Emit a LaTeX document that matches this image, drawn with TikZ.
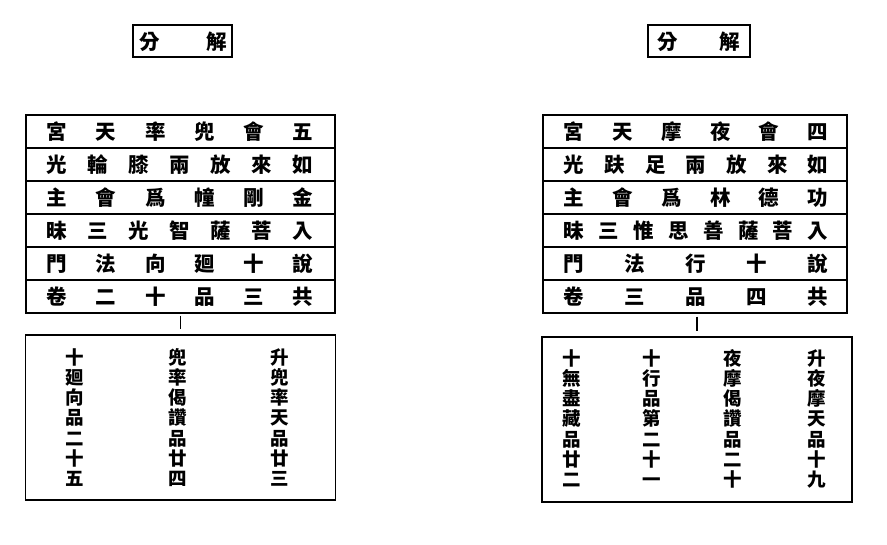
\documentclass[tikz,border=0pt]{standalone}
\usepackage{fontspec}
\newfontfamily\cjk{Noto Sans CJK TC}
\newcommand\putrow[6]{%
  \foreach \c [count=\i from 0] in {#6} {%
    \node[ch] (#1-\i) at ({#2+(#3-#2)*\i/(#5-1)},{#4+8}) {\c};}}
\newcommand\putcol[4]{%
  \foreach \c [count=\i from 0] in {#4} {%
    \node[colch] (#1-\i) at (#2,{#3+7+20.3*\i}) {\c};}}
\begin{document}
\begin{tikzpicture}[x=1pt,y=-1pt,
  box/.style={draw,line width=1.2pt,inner sep=0pt},
  ch/.style={font=\cjk\bfseries\fontsize{20.5}{20.5}\selectfont,inner sep=0pt,anchor=base},
  colch/.style={font=\cjk\bfseries\fontsize{18.5}{18.5}\selectfont,inner sep=0pt,anchor=base},
  link/.style={line width=1.6pt}]
\useasboundingbox[fill=white] (0,0) rectangle (887,544);
% titles
\node[box,minimum width=99pt,minimum height=32pt] (tL) at (182.5,41) {};
\node[ch] (tL1) at (150,49) {分};
\node[ch] (tL2) at (217,49) {解};
\node[box,minimum width=102pt,minimum height=32pt] (tR) at (699,41) {};
\node[ch] (tR1) at (668,49) {分};
\node[ch] (tR2) at (730,49) {解};
% tables
\foreach \k in {1,...,6} {
  \node[box,minimum width=309pt,minimum height=33pt] (LR\k) at (180.5,{115+33*(\k-0.5)}) {};
  \node[box,minimum width=304pt,minimum height=33pt] (RR\k) at (695,{115+33*(\k-0.5)}) {};
}
\putrow{L1}{57}{303}{131.5}{6}{宮,天,率,兜,會,五}
\putrow{L2}{57}{303}{164.5}{7}{光,輪,膝,兩,放,來,如}
\putrow{L3}{57}{303}{197.5}{6}{主,會,爲,幢,剛,金}
\putrow{L4}{57}{303}{230.5}{7}{昧,三,光,智,薩,菩,入}
\putrow{L5}{57}{303}{263.5}{6}{門,法,向,廻,十,說}
\putrow{L6}{57}{303}{296.5}{6}{卷,二,十,品,三,共}
\putrow{R1}{574}{818}{131.5}{6}{宮,天,摩,夜,會,四}
\putrow{R2}{574}{818}{164.5}{7}{光,趺,足,兩,放,來,如}
\putrow{R3}{574}{818}{197.5}{6}{主,會,爲,林,德,功}
\putrow{R4}{574}{818}{230.5}{8}{昧,三,惟,思,善,薩,菩,入}
\putrow{R5}{574}{818}{263.5}{5}{門,法,行,十,說}
\putrow{R6}{574}{818}{296.5}{5}{卷,三,品,四,共}
% bottom boxes
\node[box,minimum width=310pt,minimum height=165pt] (botL) at (180.5,417.5) {};
\node[box,minimum width=310pt,minimum height=165pt] (botR) at (697,419.5) {};
\putcol{cL1}{75}{357}{十,廻,向,品,二,十,五}
\putcol{cL2}{178}{357}{兜,率,偈,讚,品,廿,四}
\putcol{cL3}{280}{357}{升,兜,率,天,品,廿,三}
\putcol{cR1}{572}{358}{十,無,盡,藏,品,廿,二}
\putcol{cR2}{652}{358}{十,行,品,第,二,十,一}
\putcol{cR3}{733}{358}{夜,摩,偈,讚,品,二,十}
\putcol{cR4}{817}{358}{升,夜,摩,天,品,十,九}
% connectors
\draw[link] ([yshift=-2pt]LR6.south) -- ([yshift=5pt]botL.north);
\draw[link] ([yshift=-3pt]botR.north |- RR6.south) -- ([yshift=5pt]botR.north);
\end{tikzpicture}
\end{document}
